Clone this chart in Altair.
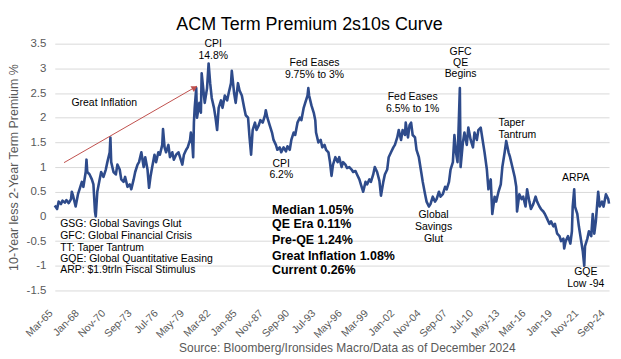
import altair as alt
import pandas as pd

FONT = "Liberation Sans"
BLUE = "#2E4B8B"
RED = "#C0504D"
GREY = "#595959"

# ---- series ----
dates = [
    "1965-03", "1965-06", "1965-08", "1965-11", "1966-01", "1966-04", "1966-06", "1966-09", "1966-12", "1967-01",
    "1967-03", "1967-06", "1967-09", "1967-11", "1968-02", "1968-04", "1968-07", "1968-08", "1968-09", "1968-12",
    "1969-03", "1969-05", "1969-07", "1969-08", "1969-10", "1970-01", "1970-03", "1970-06", "1970-09", "1970-11",
    "1971-02", "1971-03", "1971-04", "1971-07", "1971-10", "1971-12", "1972-03", "1972-05", "1972-08", "1972-10",
    "1973-01", "1973-04", "1973-06", "1973-09", "1973-11", "1974-02", "1974-04", "1974-07", "1974-10", "1974-12",
    "1975-03", "1975-05", "1975-07", "1975-09", "1975-12", "1976-02", "1976-05", "1976-07", "1976-10", "1976-11",
    "1977-01", "1977-03", "1977-06", "1977-08", "1977-11", "1978-01", "1978-04", "1978-07", "1978-09", "1978-12",
    "1979-02", "1979-05", "1979-07", "1979-10", "1979-11", "1980-01", "1980-02", "1980-03", "1980-04", "1980-06",
    "1980-07", "1980-10", "1980-12", "1981-01", "1981-03", "1981-05", "1981-08", "1981-10", "1981-12", "1982-02",
    "1982-05", "1982-07", "1982-09", "1982-11", "1983-02", "1983-04", "1983-07", "1983-10", "1983-12", "1984-03",
    "1984-04", "1984-07", "1984-09", "1984-12", "1985-02", "1985-05", "1985-08", "1985-10", "1986-01", "1986-03",
    "1986-05", "1986-07", "1986-10", "1986-12", "1987-03", "1987-05", "1987-08", "1987-11", "1987-12", "1988-02",
    "1988-05", "1988-08", "1988-10", "1989-01", "1989-03", "1989-06", "1989-08", "1989-11", "1990-02", "1990-04",
    "1990-07", "1990-09", "1990-12", "1991-02", "1991-05", "1991-08", "1991-10", "1992-01", "1992-03", "1992-06",
    "1992-07", "1992-08", "1992-11", "1993-02", "1993-04", "1993-05", "1993-08", "1993-11", "1994-01", "1994-04",
    "1994-06", "1994-09", "1994-11", "1995-01", "1995-03", "1995-06", "1995-09", "1995-11", "1996-02", "1996-04",
    "1996-07", "1996-09", "1996-12", "1997-03", "1997-05", "1997-08", "1997-10", "1998-01", "1998-03", "1998-06",
    "1998-09", "1998-11", "1999-02", "1999-04", "1999-07", "1999-09", "1999-12", "2000-03", "2000-05", "2000-08",
    "2000-10", "2001-01", "2001-03", "2001-06", "2001-09", "2001-11", "2002-02", "2002-04", "2002-07", "2002-09",
    "2002-12", "2003-01", "2003-04", "2003-06", "2003-08", "2003-10", "2004-01", "2004-03", "2004-06", "2004-09",
    "2004-11", "2005-02", "2005-04", "2005-07", "2005-09", "2005-12", "2006-03", "2006-05", "2006-08", "2006-10",
    "2007-01", "2007-04", "2007-06", "2007-09", "2007-11", "2008-02", "2008-04", "2008-06", "2008-08", "2008-09",
    "2008-11", "2008-12", "2009-03", "2009-05", "2009-08", "2009-10", "2010-01", "2010-04", "2010-06", "2010-09",
    "2010-11", "2011-02", "2011-04", "2011-07", "2011-10", "2011-12", "2012-03", "2012-05", "2012-08", "2012-10",
    "2013-01", "2013-04", "2013-06", "2013-09", "2013-11", "2014-02", "2014-04", "2014-07", "2014-10", "2014-12",
    "2015-01", "2015-04", "2015-07", "2015-09", "2015-12", "2016-02", "2016-05", "2016-07", "2016-10", "2017-01",
    "2017-03", "2017-06", "2017-08", "2017-11", "2018-01", "2018-04", "2018-07", "2018-09", "2018-12", "2019-02",
    "2019-05", "2019-08", "2019-10", "2020-01", "2020-02", "2020-04", "2020-07", "2020-10", "2020-12", "2021-01",
    "2021-03", "2021-04", "2021-07", "2021-09", "2021-12", "2022-02", "2022-04", "2022-05", "2022-08", "2022-10",
    "2023-01", "2023-03", "2023-05", "2023-07", "2023-10", "2023-12", "2024-03", "2024-05", "2024-08", "2024-11",
    "2024-12",
]
values = [
    0.22, 0.15, 0.30, 0.25, 0.32, 0.28, 0.33, 0.27, 0.35, 0.50,
    0.40, 0.20, 0.45, 0.55, 0.70, 0.60, 0.90, 1.15, 0.90, 0.85,
    0.75, 0.65, 0.10, 0.00, 0.50, 0.75, 0.90, 0.80, 0.95, 1.10,
    1.30, 1.60, 1.10, 0.90, 0.85, 1.05, 0.95, 0.75, 0.70, 0.80,
    0.60, 0.65, 0.55, 0.75, 0.90, 1.05, 1.10, 1.30, 1.00, 1.20,
    0.95, 0.58, 0.82, 1.00, 1.25, 1.10, 1.30, 1.25, 1.45, 1.77,
    1.40, 1.30, 1.45, 1.20, 1.30, 1.15, 1.25, 1.30, 1.20, 1.05,
    1.25, 1.35, 1.40, 1.55, 1.70, 1.45, 1.20, 1.90, 2.20, 2.60,
    2.00, 2.30, 2.10, 2.90, 2.60, 2.30, 2.60, 3.10, 2.70, 2.40,
    2.20, 2.00, 1.75, 2.20, 2.35, 2.20, 2.45, 2.35, 2.50, 2.70,
    2.95, 2.50, 2.30, 2.70, 2.55, 2.45, 2.20, 2.05, 2.00, 1.60,
    1.25, 1.75, 1.90, 1.75, 1.85, 1.95, 1.90, 2.05, 2.15, 2.00,
    1.85, 1.70, 1.55, 1.45, 1.35, 1.40, 1.30, 1.40, 1.32, 1.42,
    1.35, 1.55, 1.70, 1.65, 1.90, 2.00, 1.95, 2.20, 2.30, 2.45,
    2.60, 2.45, 2.25, 2.10, 1.95, 1.70, 1.50, 1.55, 1.40, 1.45,
    1.35, 1.30, 1.10, 0.82, 1.05, 1.20, 1.10, 1.20, 1.00, 1.10,
    1.05, 0.98, 1.00, 0.95, 0.90, 0.92, 0.85, 0.75, 0.65, 0.50,
    0.70, 0.65, 0.75, 0.70, 0.85, 1.00, 0.90, 0.72, 0.42, 0.70,
    0.85, 0.95, 1.20, 1.30, 1.40, 1.45, 1.60, 1.75, 1.55, 1.75,
    1.65, 1.90, 1.60, 1.85, 1.90, 1.65, 1.60, 1.35, 1.20, 0.90,
    0.70, 0.45, 0.30, 0.20, 0.25, 0.40, 0.30, 0.35, 0.50, 0.40,
    0.45, 0.60, 0.55, 0.70, 0.95, 1.10, 1.65, 1.30, 1.10, 1.60,
    2.60, 1.00, 1.50, 1.70, 1.45, 1.80, 1.55, 1.40, 1.70, 1.55,
    1.75, 1.80, 1.60, 1.30, 0.95, 0.55, 0.75, 0.05, 0.40, 0.30,
    0.50, 0.65, 1.00, 1.30, 1.53, 1.30, 1.20, 1.00, 0.80, 0.60,
    0.10, 0.45, 0.35, 0.40, 0.20, 0.55, 0.30, 0.15, 0.25, 0.40,
    0.30, 0.20, 0.15, 0.10, 0.05, -0.05, -0.15, -0.10, -0.20, -0.15,
    -0.35, -0.40, -0.50, -0.45, -0.65, -0.50, -0.40, -0.55, -0.30, 0.20,
    0.55, 0.20, 0.05, -0.20, -0.50, -0.70, -1.00, -0.60, -0.45, -0.30,
    -0.40, 0.05, -0.35, -0.10, 0.50, 0.20, 0.30, 0.20, 0.45, 0.35,
    0.26,
]

# ---- axes ----
x_tick_months = ["1965-03", "1968-01", "1970-11", "1973-09", "1976-07", "1979-05", "1982-03",
                 "1985-01", "1987-11", "1990-09", "1993-07", "1996-05", "1999-03", "2002-01",
                 "2004-11", "2007-09", "2010-07", "2013-05", "2016-03", "2019-01", "2021-11",
                 "2024-09"]
y_ticks = [-1.5, -1, -0.5, 0, 0.5, 1, 1.5, 2, 2.5, 3, 3.5]
x_start, x_end = "1965-03", "2024-12"

# ---- annotations ----
center_dates = ["1970-07", "1982-04", "1982-04", "1993-03", "1993-03", "1989-08", "1989-08",
                "2003-10", "2003-10", "2008-12", "2008-12", "2008-12", "2006-01", "2006-01",
                "2006-01", "2021-05", "2022-06", "2022-06"]
center_values = [2.30, 3.49, 3.26, 3.10, 2.86, 1.06, 0.83, 2.41, 2.17, 3.33, 3.10, 2.88,
                 0.02, -0.22, -0.45, 0.78, -1.12, -1.37]
center_texts = ["Great Inflation", "CPI", "14.8%", "Fed Eases", "9.75% to 3%", "CPI", "6.2%",
                "Fed Eases", "6.5% to 1%", "GFC", "QE", "Begins", "Global", "Savings", "Glut",
                "ARPA", "GQE", "Low -94"]

left_dates = ["2013-01", "2013-01", "1965-10", "1965-10", "1965-10", "1965-10", "1965-10"]
left_values = [1.90, 1.65, -0.16, -0.40, -0.63, -0.86, -1.09]
left_texts = ["Taper", "Tantrum", "GSG: Global Savings Glut", "GFC: Global Financial Crisis",
              "TT: Taper Tantrum", "GQE: Global Quantitative Easing", "ARP: $1.9trln Fiscal Stimulus"]

stat_dates = ["1988-08"] * 5
stat_values = [0.12, -0.15, -0.47, -0.80, -1.09]
stat_texts = ["Median 1.05%", "QE Era 0.11%", "Pre-QE 1.24%", "Great Inflation 1.08%", "Current 0.26%"]

arrow_dates = ["1966-03", "1980-07"]
arrow_values = [1.09, 2.64]
head_dates = ["1980-04"]
head_values = [2.61]

TITLE = "ACM Term Premium 2s10s Curve"
SOURCE = "Source: Bloomberg/Ironsides Macro/Data as of December 2024"


def dt(s):
    return alt.DateTime(year=int(s[:4]), month=int(s[5:7]), date=1, utc=True)


def frame(ds, vs, ts=None):
    d = {"date": [s + "-01" for s in ds], "value": vs}
    if ts is not None:
        d["text"] = ts
    return pd.DataFrame(d)


line_df = frame(dates, values)

x_enc = alt.X(
    "date:T",
    scale=alt.Scale(type="utc", domain=[dt(x_start), dt(x_end)], nice=False),
    axis=alt.Axis(
        values=[dt(s) for s in x_tick_months], tickCount=100, format="%b-%y", labelAngle=-45,
        labelAlign="right", labelBaseline="middle", labelPadding=21, labelOffset=-4,
        labelFont=FONT, labelFontSize=10.5, labelColor=GREY, labelFlush=False,
        labelOverlap=False, labelBound=False, labelSeparation=0,
        ticks=False, domain=False, grid=False, title=None,
    ),
)
y_enc = alt.Y(
    "value:Q",
    scale=alt.Scale(domain=[-1.5, 3.5], nice=False, zero=False),
    axis=alt.Axis(
        values=y_ticks, tickCount=100, labelExpr="'' + datum.value", labelFont=FONT,
        labelFontSize=11.5, labelColor=GREY, labelPadding=9, labelOverlap=False,
        ticks=False, domain=False, grid=True, gridColor="#D9D9D9", gridWidth=1,
        title="10-Year less 2-Year Term Premium %", titleFont=FONT, titleFontSize=12.5,
        titleFontWeight="normal", titleColor=GREY, titleX=-41, titleY=124, titleAngle=-90,
        titleAlign="center", titleBaseline="middle",
    ),
)

line = alt.Chart(line_df).mark_line(color=BLUE, strokeWidth=2.6, strokeJoin="round").encode(
    x=x_enc, y=y_enc
)

arrow = alt.Chart(frame(arrow_dates, arrow_values)).mark_line(color=RED, strokeWidth=1).encode(
    x="date:T", y="value:Q"
)
head = alt.Chart(frame(head_dates, head_values)).mark_point(
    shape="triangle-up", filled=True, size=45, angle=60, color=RED, opacity=1
).encode(x="date:T", y="value:Q")

center_notes = alt.Chart(frame(center_dates, center_values, center_texts)).mark_text(
    font=FONT, fontSize=10.5, color="#000000", align="center", baseline="middle"
).encode(x="date:T", y="value:Q", text="text:N")

left_notes = alt.Chart(frame(left_dates, left_values, left_texts)).mark_text(
    font=FONT, fontSize=10.5, color="#000000", align="left", baseline="middle"
).encode(x="date:T", y="value:Q", text="text:N")

stats = alt.Chart(frame(stat_dates, stat_values, stat_texts)).mark_text(
    font=FONT, fontSize=12.5, fontWeight="bold", color="#000000", align="left", baseline="middle"
).encode(x="date:T", y="value:Q", text="text:N")

title = alt.Chart(pd.DataFrame({"text": [TITLE]})).mark_text(
    font=FONT, fontSize=18, color="#000000", align="center", baseline="alphabetic"
).encode(x=alt.value(256), y=alt.value(-14), text="text:N")

source = alt.Chart(pd.DataFrame({"text": [SOURCE]})).mark_text(
    font=FONT, fontSize=12, color=GREY, align="center", baseline="alphabetic"
).encode(x=alt.value(294), y=alt.value(310), text="text:N")

chart = (
    alt.layer(line, arrow, head, center_notes, left_notes, stats, title, source)
    .properties(
        width=557, height=248,
        padding={"left": 47, "top": 35, "right": 4, "bottom": 64},
        autosize=alt.AutoSizeParams(type="none"),
    )
    .configure_view(stroke=None)
)

chart.save("out.html", embed_options={"renderer": "svg", "actions": False})
